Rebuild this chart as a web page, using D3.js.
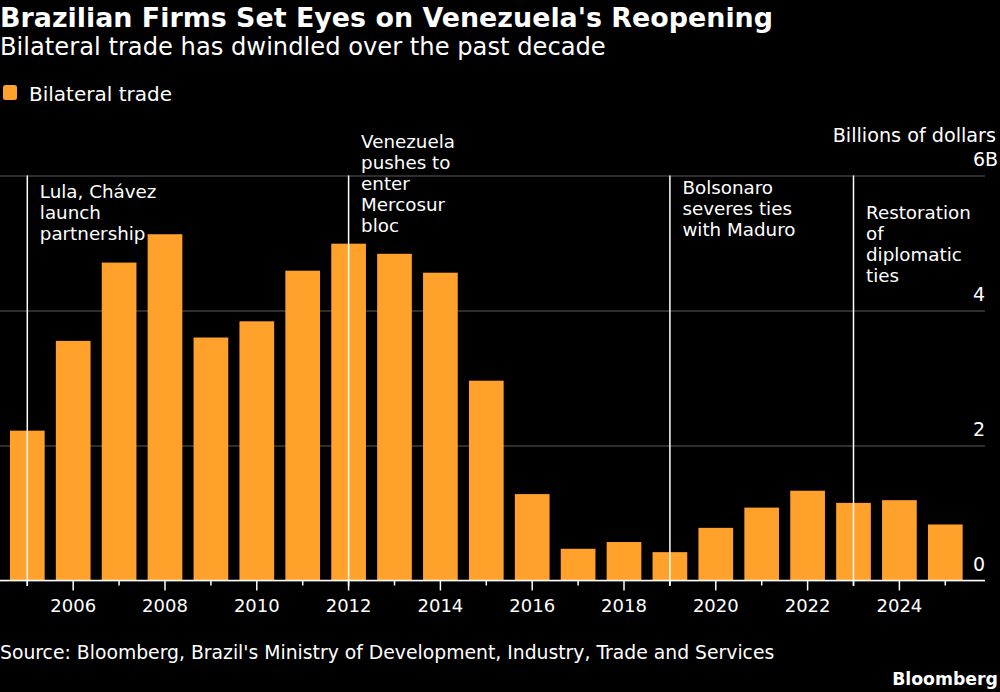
<!DOCTYPE html>
<html>
<head>
<meta charset="utf-8">
<script src="https://cdn.jsdelivr.net/npm/d3@7"></script>
<style>
    body { margin: 0; background: #000; }
    text { font-family: "DejaVu Sans", sans-serif; fill: #fff; }
</style>
</head>
<body>
<div id="chart"></div>
<script>
// values (billions of dollars)
var years = [2005, 2006, 2007, 2008, 2009, 2010, 2011, 2012, 2013, 2014, 2015,
             2016, 2017, 2018, 2019, 2020, 2021, 2022, 2023, 2024, 2025];
var trade = [2.22, 3.55, 4.71, 5.13, 3.60, 3.84, 4.59, 4.99, 4.84, 4.56, 2.96,
             1.28, 0.47, 0.57, 0.42, 0.78, 1.08, 1.33, 1.15, 1.19, 0.83];
var yTicks = [0, 2, 4, 6];
var xLabelYears = [2006, 2008, 2010, 2012, 2014, 2016, 2018, 2020, 2022, 2024];

var noteYears = [2005, 2012, 2019, 2023];
var noteLines = [
    ["Lula, Chávez", "launch", "partnership"],
    ["Venezuela", "pushes to", "enter", "Mercosur", "bloc"],
    ["Bolsonaro", "severes ties", "with Maduro"],
    ["Restoration", "of", "diplomatic", "ties"]
];
// first baseline of each note (px)
var noteTop = [198, 148, 194, 219];

var barColor = "#ffa12b";

// dimensions of the graph
var margin = {top: 175.5, left: 0},
    width = 985,
    height = 405;

var svg = d3.select("#chart").append("svg")
    .attr("width", 1000)
    .attr("height", 692);

// title block
svg.append("text")
    .attr("x", 0).attr("y", 27)
    .style("font-weight", "bold")
    .style("font-size", "26.9px")
    .text("Brazilian Firms Set Eyes on Venezuela's Reopening");

svg.append("text")
    .attr("x", 0).attr("y", 55)
    .style("font-size", "24.2px")
    .text("Bilateral trade has dwindled over the past decade");

// legend
svg.append("rect")
    .attr("x", 3).attr("y", 85)
    .attr("width", 14).attr("height", 15)
    .attr("rx", 2.5)
    .attr("fill", barColor);
svg.append("text")
    .attr("x", 29).attr("y", 101)
    .style("font-size", "20px")
    .text("Bilateral trade");

var g = svg.append("g")
    .attr("transform", "translate(" + margin.left + "," + margin.top + ")");

// scales
var x = d3.scaleBand()
    .domain(years)
    .range([4.35, 968.25])
    .paddingInner(0.244)
    .paddingOuter(0.122);

var y = d3.scaleLinear()
    .domain([0, 6])
    .range([height, 0]);

// grid + y labels
var yAxis = g.append("g")
    .attr("transform", "translate(" + width + ",0)")
    .call(d3.axisLeft(y).tickValues(yTicks).tickSize(width).tickFormat(d3.format("d")));
yAxis.select(".domain").remove();
yAxis.selectAll(".tick line").attr("stroke", "#5c5c5c").attr("stroke-width", 1);
yAxis.selectAll(".tick text")
    .attr("x", 0)
    .attr("dy", -10.5)
    .attr("text-anchor", "end")
    .style("font-size", "19px")
    .style("font-family", "'DejaVu Sans', sans-serif")
    .attr("fill", "#fff");
yAxis.selectAll(".tick").filter(function(d) { return d === 6; })
    .append("text")
    .attr("x", 0)
    .attr("dy", -10.5)
    .attr("text-anchor", "start")
    .style("font-size", "19px")
    .attr("fill", "#fff")
    .text("B");

svg.append("text")
    .attr("x", 996).attr("y", 141.5)
    .attr("text-anchor", "end")
    .style("font-size", "19.2px")
    .text("Billions of dollars");

// bars
g.selectAll(".bar")
    .data(years)
    .enter().append("rect")
    .attr("class", "bar")
    .attr("x", function(d) { return x(d); })
    .attr("width", x.bandwidth())
    .attr("y", function(d, i) { return y(trade[i]); })
    .attr("height", function(d, i) { return height - y(trade[i]); })
    .attr("fill", barColor);

// x axis
var xAxis = g.append("g")
    .attr("transform", "translate(0," + height + ")")
    .call(d3.axisBottom(x).tickSize(5).tickSizeOuter(0)
        .tickFormat(function(d) { return xLabelYears.indexOf(d) >= 0 ? d : ""; }));
xAxis.select(".domain")
    .attr("d", "M0,0H" + width)
    .attr("stroke", "#fff")
    .attr("stroke-width", 1.5);
xAxis.selectAll(".tick line").attr("stroke", "#fff").attr("stroke-width", 1.5);
xAxis.selectAll(".tick").filter(function(d) { return xLabelYears.indexOf(d) >= 0; })
    .select("line").attr("y2", 10);
xAxis.selectAll(".tick text")
    .attr("y", 0)
    .attr("dy", 31)
    .style("font-size", "18px")
    .style("font-family", "'DejaVu Sans', sans-serif")
    .attr("fill", "#fff");

// annotations
var notes = g.selectAll(".note")
    .data(noteYears)
    .enter().append("g")
    .attr("class", "note")
    .attr("transform", function(d) { return "translate(" + (x(d) + x.bandwidth() / 2) + ",0)"; });

notes.append("line")
    .attr("y1", 0)
    .attr("y2", height + 5.5)
    .attr("stroke", "#fff")
    .attr("stroke-width", 1.5);

notes.each(function(d, i) {
    var t = d3.select(this).append("text")
        .attr("x", 12.5)
        .attr("y", noteTop[i] - margin.top)
        .style("font-size", "18.3px");
    noteLines[i].forEach(function(line, j) {
        t.append("tspan")
            .attr("x", 12.5)
            .attr("dy", j === 0 ? 0 : 21)
            .text(line);
    });
});

// footer
svg.append("text")
    .attr("x", 0).attr("y", 659)
    .style("font-size", "18.8px")
    .text("Source: Bloomberg, Brazil's Ministry of Development, Industry, Trade and Services");

svg.append("text")
    .attr("x", 998).attr("y", 685)
    .attr("text-anchor", "end")
    .style("font-weight", "bold")
    .style("font-size", "17.3px")
    .text("Bloomberg");
</script>
</body>
</html>
